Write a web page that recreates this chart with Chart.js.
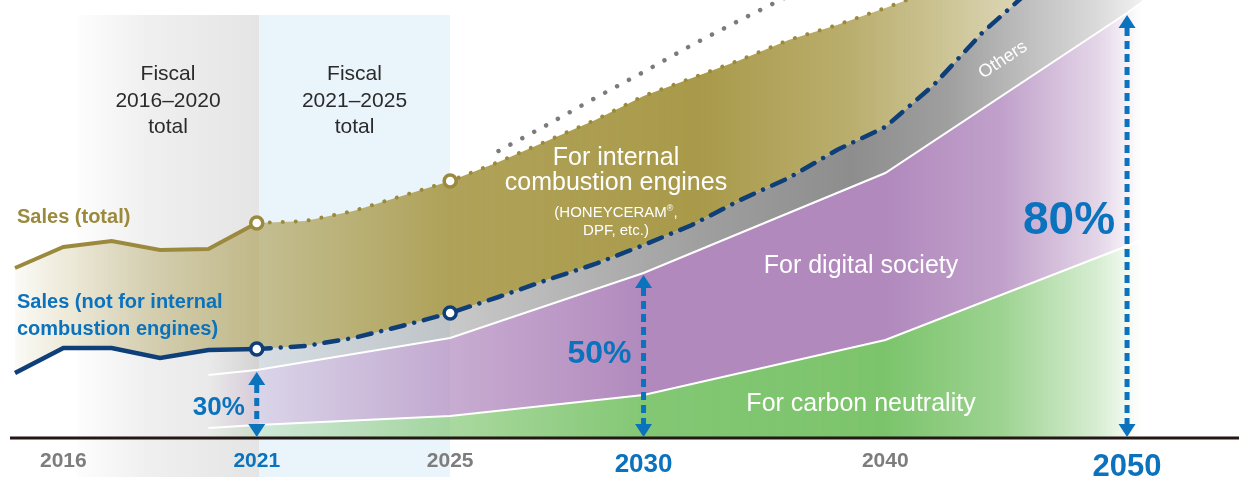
<!DOCTYPE html>
<html>
<head>
<meta charset="utf-8">
<script src="https://cdn.jsdelivr.net/npm/chart.js@4.4.1/dist/chart.umd.min.js"></script>
<style>
  html, body { margin: 0; padding: 0; background: #fff; }
  #wrap { width: 1239px; height: 477px; }
</style>
</head>
<body>
<div id="wrap"><canvas id="roadmap" width="1239" height="477"></canvas></div>
<script>
// one step on the x axis is roughly one year before 2030, two years after
const steps = ['', '2016', '', '', '', '2021', '', '', '', '2025', '', '', '', '2030', '', '', '', '', '2040', '', '', '', '', '2050', '', ''];

// heights above the base line (drawing units)
const salesTotal = [170, 191, 197, 188, 189, 215, 217, 227, 242, 257, 276, 297, 318, 342, 360, 378, 398, 413, 430, 448, 466, 484, 502, 520, 538, null];
const salesNonICE = [65, 90, 90, 80, 88, 89, 92, 100, 112, 125, 141, 158, 174, 193, 213, 238, 260, 288, 311, 353, 405, 448, 490, 530, 570, null];
const upperOutlook = [null, null, null, null, null, null, null, null, null, null, 287, 313, 340, 366, 393, 418, 442, 468, 494, null, null, null, null, null, null, null];
const digitalTop = [null, null, null, null, 63, 68, null, null, null, 100, null, null, null, 165, null, null, null, null, 265, null, null, null, null, 425, 460, null];
const carbonTop = [null, null, null, null, 10, 13, null, null, null, 22, null, null, null, 43, null, null, null, null, 98, null, null, null, null, 192, 212, null];

// share of sales not for internal combustion engines
const shareSteps = [5, 13, 23];
const shareLabels = ['30%', '50%', '80%'];

const FONT = '"Liberation Sans", Arial, sans-serif';
const BLUE = '#0b72bd';
const OLIVE = '#9b8a3e';
const NAVY = '#0f3f78';
const GREYTXT = '#7d7d7d';

const markerSteps = [5, 9];
const othersTop = salesNonICE.map((v, i) => (i >= 4 ? v : null));

// horizontal fade, stops given in x steps
function sweep(chart, rgb, stops) {
    const { ctx, chartArea, scales } = chart;
    if (!chartArea || !scales.x) return `rgba(${rgb},0.8)`;
    const x0 = scales.x.getPixelForValue(0);
    const x1 = scales.x.getPixelForValue(steps.length - 1);
    const g = ctx.createLinearGradient(x0, 0, x1, 0);
    stops.forEach(([at, a]) => {
        g.addColorStop(Math.min(1, Math.max(0, at / (steps.length - 1))), `rgba(${rgb},${a})`);
    });
    return g;
}

const tickLook = {
    '2016': [21, GREYTXT], '2021': [21, BLUE], '2025': [21, GREYTXT],
    '2030': [26, BLUE], '2040': [21, GREYTXT], '2050': [31, BLUE]
};

// shaded fiscal columns behind the chart
const backdrop = {
    id: 'backdrop',
    beforeDraw(chart) {
        const { ctx } = chart;
        const x = chart.scales.x;
        const a = Math.round(x.getPixelForValue(1) + 14);
        const b = Math.round(x.getPixelForValue(5) + 2);
        const c = Math.round(x.getPixelForValue(9));
        ctx.save();
        const g = ctx.createLinearGradient(a, 0, b, 0);
        g.addColorStop(0, 'rgba(220,220,220,0.05)');
        g.addColorStop(0.4, 'rgba(220,220,220,0.45)');
        g.addColorStop(1, 'rgba(220,220,220,0.75)');
        ctx.fillStyle = g;
        ctx.fillRect(a, 15, b - a, 477 - 15);
        ctx.fillStyle = '#eaf4fb';
        ctx.fillRect(b, 15, c - b, 477 - 15);

        ctx.fillStyle = '#2b2b2b';
        ctx.font = '21px ' + FONT;
        ctx.textAlign = 'center';
        ['Fiscal', '2016\u20132020', 'total'].forEach((t, i) => ctx.fillText(t, (a + b) / 2, 80 + i * 26.5));
        ['Fiscal', '2021\u20132025', 'total'].forEach((t, i) => ctx.fillText(t, (b + c) / 2, 80 + i * 26.5));
        ctx.restore();
    }
};

function drawArrow(ctx, x, yTop, yBot) {
    const hw = 8.5, hh = 13;
    ctx.save();
    ctx.strokeStyle = BLUE;
    ctx.fillStyle = BLUE;
    ctx.lineWidth = 5;
    ctx.setLineDash([8, 5]);
    ctx.beginPath();
    ctx.moveTo(x, yTop + hh);
    ctx.lineTo(x, yBot - hh);
    ctx.stroke();
    ctx.setLineDash([]);
    ctx.beginPath();
    ctx.moveTo(x, yTop); ctx.lineTo(x - hw, yTop + hh); ctx.lineTo(x + hw, yTop + hh);
    ctx.closePath(); ctx.fill();
    ctx.beginPath();
    ctx.moveTo(x, yBot); ctx.lineTo(x - hw, yBot - hh); ctx.lineTo(x + hw, yBot - hh);
    ctx.closePath(); ctx.fill();
    ctx.restore();
}

// base line, share arrows and all labels
const notes = {
    id: 'notes',
    afterDatasetsDraw(chart) {
        const { ctx } = chart;
        const x = chart.scales.x, y = chart.scales.y;
        const base = y.getPixelForValue(0);
        ctx.save();
        ctx.fillStyle = '#231815';
        ctx.fillRect(10, base - 1.5, 1239 - 10, 3);

        const shareSize = [26, 32, 46];
        const shareDy = [10.5, 7, 8];
        shareSteps.forEach((s, i) => {
            const px = x.getPixelForValue(s);
            const top = y.getPixelForValue(digitalTop[s]);
            drawArrow(ctx, px, top + 2, base - 1);
            ctx.fillStyle = BLUE;
            ctx.font = 'bold ' + shareSize[i] + 'px ' + FONT;
            ctx.textAlign = 'right';
            ctx.fillText(shareLabels[i], px - 12, (top + base) / 2 + shareDy[i]);
        });

        // series names on the left
        ctx.textAlign = 'left';
        ctx.font = 'bold 20px ' + FONT;
        ctx.fillStyle = OLIVE;
        ctx.fillText('Sales (total)', 17, 223);
        ctx.fillStyle = BLUE;
        ctx.fillText('Sales (not for internal', 17, 308);
        ctx.fillText('combustion engines)', 17, 335);

        // band names
        ctx.fillStyle = '#fff';
        ctx.textAlign = 'center';
        ctx.font = '25px ' + FONT;
        ctx.fillText('For internal', 616, 165);
        ctx.fillText('combustion engines', 616, 190);
        ctx.fillText('For digital society', 861, 273);
        ctx.fillText('For carbon neutrality', 861, 411);

        ctx.textAlign = 'left';
        ctx.font = '15px ' + FONT;
        const p1 = '(HONEYCERAM', p3 = ',';
        const w1 = ctx.measureText(p1).width, w3 = ctx.measureText(p3).width;
        ctx.font = '9px ' + FONT;
        const w2 = ctx.measureText('\u00ae').width;
        let sx = 616 - (w1 + w2 + w3) / 2;
        ctx.font = '15px ' + FONT;
        ctx.fillText(p1, sx, 217);
        ctx.font = '9px ' + FONT;
        ctx.fillText('\u00ae', sx + w1, 211);
        ctx.font = '15px ' + FONT;
        ctx.fillText(p3, sx + w1 + w2, 217);
        ctx.textAlign = 'center';
        ctx.fillText('DPF, etc.)', 616, 235);

        ctx.translate(1003, 60);
        ctx.rotate(-33 * Math.PI / 180);
        ctx.font = '18px ' + FONT;
        ctx.textBaseline = 'middle';
        ctx.fillText('Others', 0, 0);
        ctx.restore();
    }
};

const ctx = document.getElementById('roadmap').getContext('2d');

new Chart(ctx, {
    type: 'line',
    data: {
        labels: steps,
        datasets: [
            {
                label: 'Sales (not for internal combustion engines)',
                data: salesNonICE,
                borderColor: NAVY,
                borderWidth: 4.5,
                fill: false,
                pointRadius: c => (markerSteps.includes(c.dataIndex) ? 6 : 0),
                pointBackgroundColor: '#fff',
                pointBorderColor: NAVY,
                pointBorderWidth: 3.5,
                segment: {
                    borderDash: c => (c.p0DataIndex >= 5 ? [14, 10, 0.01, 10] : []),
                    borderCapStyle: c => (c.p0DataIndex >= 5 ? 'round' : 'butt')
                }
            },
            {
                label: 'Sales (total)',
                data: salesTotal,
                borderColor: OLIVE,
                borderWidth: 4,
                fill: false,
                pointRadius: c => (markerSteps.includes(c.dataIndex) ? 6 : 0),
                pointBackgroundColor: '#fff',
                pointBorderColor: OLIVE,
                pointBorderWidth: 3.5,
                segment: {
                    borderDash: c => (c.p0DataIndex >= 5 ? [0.01, 13] : []),
                    borderCapStyle: c => (c.p0DataIndex >= 5 ? 'round' : 'butt')
                }
            },
            {
                // olive band between total and non-ICE sales
                label: 'For internal combustion engines',
                data: salesTotal,
                borderWidth: 0,
                borderColor: 'rgba(0,0,0,0)',
                fill: { target: 3 },
                backgroundColor: c => sweep(c.chart, '169,154,74', [[0, 0.05], [1, 0.2], [3, 0.4], [5.1, 0.6], [9, 0.92], [14.2, 1], [17.3, 0.8], [20.4, 0.45], [22.4, 0.25], [23.3, 0.15], [23.35, 0]]),
                pointRadius: 0
            },
            {
                label: 'non-ICE base',
                data: salesNonICE,
                borderWidth: 0,
                borderColor: 'rgba(0,0,0,0)',
                fill: false,
                pointRadius: 0
            },
            {
                label: 'Outlook',
                data: upperOutlook,
                borderColor: '#7b7b7b',
                borderWidth: 4.5,
                borderDash: [0.01, 13.5],
                borderCapStyle: 'round',
                fill: false,
                pointRadius: 0
            },
            {
                label: 'Others',
                data: othersTop,
                borderWidth: 0,
                borderColor: 'rgba(0,0,0,0)',
                fill: { target: 6 },
                backgroundColor: c => sweep(c.chart, '135,135,135', [[4, 0], [5.1, 0.2], [9, 0.45], [14.2, 0.8], [17.3, 0.95], [19.3, 0.8], [22.4, 0.3], [23.3, 0.12], [23.35, 0]]),
                pointRadius: 0
            },
            {
                label: 'For digital society',
                data: digitalTop,
                borderColor: '#fff',
                borderWidth: 2,
                fill: { target: 7 },
                backgroundColor: c => sweep(c.chart, '177,137,189', [[4, 0], [5.1, 0.3], [9, 0.7], [13.1, 1], [18, 1], [20.4, 0.8], [22.4, 0.35], [23.3, 0]]),
                pointRadius: 0
            },
            {
                label: 'For carbon neutrality',
                data: carbonTop,
                borderColor: '#fff',
                borderWidth: 2,
                fill: 'origin',
                backgroundColor: c => sweep(c.chart, '124,196,108', [[4, 0], [5.1, 0.25], [9, 0.65], [13.1, 0.95], [18, 1], [20.4, 0.75], [22.4, 0.3], [23.3, 0]]),
                pointRadius: 0
            }
        ]
    },
    options: {
        responsive: false,
        devicePixelRatio: 1,
        animation: false,
        events: [],
        spanGaps: true,
        elements: { line: { tension: 0 } },
        layout: { padding: { left: 15, right: 15.25, top: 0, bottom: 0 } },
        plugins: {
            legend: { display: false },
            tooltip: { enabled: false },
            filler: { drawTime: 'beforeDatasetsDraw' }
        },
        scales: {
            x: {
                type: 'category',
                offset: false,
                grid: { display: false, drawTicks: false, tickLength: 0 },
                border: { display: false },
                afterFit: s => { s.height = 39; },
                ticks: {
                    autoSkip: false,
                    maxRotation: 0,
                    minRotation: 0,
                    padding: 11,
                    callback: (v, i) => steps[i],
                    font: c => ({ family: FONT, weight: 'bold', size: (tickLook[steps[c.index]] || [21])[0] }),
                    color: c => (tickLook[steps[c.index]] || [21, GREYTXT])[1]
                }
            },
            y: {
                display: false,
                min: 0,
                max: 438
            }
        }
    },
    plugins: [backdrop, notes]
});
</script>
</body>
</html>
